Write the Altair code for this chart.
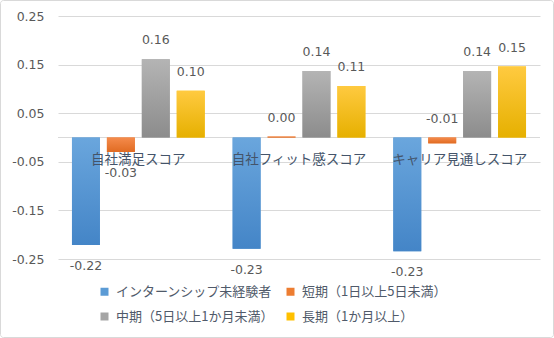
import altair as alt
import pandas as pd

categories = ["自社満足スコア", "自社フィット感スコア", "キャリア見通しスコア"]
series = ["インターンシップ未経験者", "短期（1日以上5日未満）", "中期（5日以上1か月未満）", "長期（1か月以上）"]
v_none = [-0.221, -0.229, -0.234]
v_short = [-0.030, 0.002, -0.012]
v_mid = [0.161, 0.137, 0.137]
v_long = [0.096, 0.106, 0.146]
y_ticks = [0.25, 0.15, 0.05, -0.05, -0.15, -0.25]

solid = ["#5b9bd5", "#ed7d31", "#a5a5a5", "#ffc000"]
grad = [("#6aa6dd", "#4485c7"), ("#f58b4c", "#e06b22"), ("#b4b4b4", "#8c8c8c"), ("#ffca40", "#e6b000")]
txt = "#505a6a"
FONT = "Noto Sans CJK JP"
NUMFONT = "DejaVu Sans"

rows = []
for s, vals in zip(series, [v_none, v_short, v_mid, v_long]):
    for c, v in zip(categories, vals):
        rows.append({"category": c, "series": s, "value": v})
df = pd.DataFrame(rows)

W, H = 482, 243
xenc = alt.X("category:N", sort=categories, axis=None,
             scale=alt.Scale(paddingInner=0, paddingOuter=0))
xoff = alt.XOffset("series:N", sort=series,
                   scale=alt.Scale(domain=series, paddingInner=0.2, paddingOuter=0.4))
yscale = alt.Scale(domain=[-0.25, 0.25], nice=False, zero=False)

base = alt.Chart(df).transform_calculate(
    lbl="replace(format(datum.value, '.2f'), '\u2212', '-')"
)

bars = base.mark_bar().encode(
    x=xenc, xOffset=xoff,
    y=alt.Y("value:Q", scale=yscale,
            axis=alt.Axis(values=y_ticks, title=None, domain=False, ticks=False,
                          labelExpr="replace(format(datum.value, '.2f'), '\u2212', '-')",
                          labelPadding=14, labelFontSize=12.5, labelFont=NUMFONT,
                          labelColor="#595959", gridColor="#d9d9d9", gridWidth=1)),
    color=alt.Color("series:N", sort=series,
                    scale=alt.Scale(domain=series, range=solid),
                    legend=alt.Legend(title=None, orient="none", legendX=40, legendY=269,
                                      columns=2, direction="horizontal", symbolType="square",
                                      symbolSize=64, symbolStrokeWidth=0, labelFontSize=13,
                                      labelColor=txt, labelLimit=400, rowPadding=11,
                                      columnPadding=10, labelOffset=5)),
)

grad_layers = []
for s, (c1, c2) in zip(series, grad):
    grad_layers.append(
        base.transform_filter(alt.datum.series == s).mark_bar(
            color=alt.Gradient(gradient="linear", x1=0, x2=0, y1=0, y2=1,
                               stops=[alt.GradientStop(color=c1, offset=0),
                                      alt.GradientStop(color=c2, offset=1)])
        ).encode(x=xenc, xOffset=xoff, y=alt.Y("value:Q", scale=yscale))
    )

zero = alt.Chart(pd.DataFrame({"z": [0]})).mark_rule(color="#d9d9d9", strokeWidth=1).encode(
    y=alt.Y("z:Q", scale=yscale))

lab_above = base.transform_filter(alt.datum.value > -0.02).transform_calculate(
    ypos="max(datum.value, 0)"
).mark_text(dy=-19, fontSize=12.5, font=NUMFONT, color="#595959", baseline="middle").encode(
    x=xenc, xOffset=xoff, y=alt.Y("ypos:Q", scale=yscale), text="lbl:N")

lab_below = base.transform_filter(alt.datum.value <= -0.02).mark_text(
    dy=21, fontSize=12.5, font=NUMFONT, color="#595959", baseline="middle").encode(
    x=xenc, xOffset=xoff, y=alt.Y("value:Q", scale=yscale), text="lbl:N")

cat_df = pd.DataFrame({"category": categories, "z": [0] * len(categories)})
cat_labels = alt.Chart(cat_df).mark_text(dy=22, fontSize=13.5, color="#44546a",
                                         baseline="middle").encode(
    x=xenc, y=alt.Y("z:Q", scale=yscale), text="category:N")

border = alt.Chart(pd.DataFrame({"a": [0]})).mark_rect(
    fill=None, stroke="#d9d9d9", strokeWidth=1, cornerRadius=3).encode(
    x=alt.value(-57.5), x2=alt.value(W + 13.5), y=alt.value(-15.5), y2=alt.value(H + 78.5))

chart = alt.layer(border, zero, bars, *grad_layers, lab_above, lab_below, cat_labels).resolve_scale(
    x="shared", y="shared"
).properties(
    width=W, height=H,
    autosize=alt.AutoSizeParams(type="none"),
    padding={"left": 58, "top": 16, "right": 14, "bottom": 79},
).configure(font=FONT).configure_view(stroke=None)

chart.save("out.html", embed_options={"renderer": "svg", "actions": False})
